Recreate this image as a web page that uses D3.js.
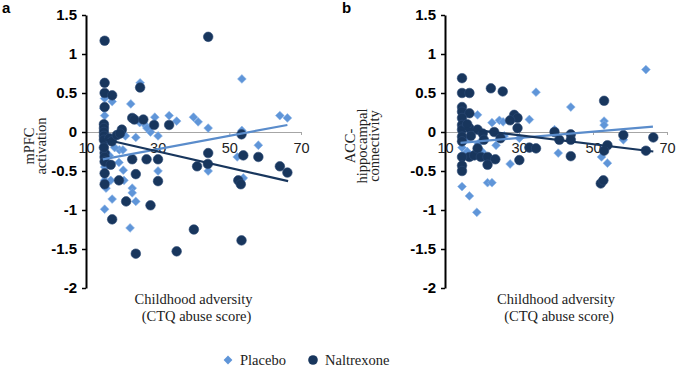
<!DOCTYPE html>
<html>
<head>
<meta charset="utf-8">
<script src="https://cdn.jsdelivr.net/npm/d3@7"></script>
<style>
  body { margin: 0; background: #fff; }
  svg { display: block; }
  .yaxis text { font-family: Arial, "Liberation Sans", sans-serif; font-weight: bold; font-size: 15px; fill: #000; }
  .xaxis text { font-family: Arial, "Liberation Sans", sans-serif; font-size: 14.5px; fill: #222; }
  .title { font-family: "Times New Roman", "Liberation Serif", serif; font-size: 14.5px; fill: #222; }
  .panel { font-family: Arial, "Liberation Sans", sans-serif; font-weight: bold; font-size: 15px; }
</style>
</head>
<body>
<svg id="chart" width="678" height="367"></svg>
<script>
// tick values
var xTicks = [10, 30, 50, 70];
var yTicks = [1.5, 1, 0.5, 0, -0.5, -1, -1.5, -2];
var seriesNames = ['Placebo', 'Naltrexone'];

// panel a: mPFC activation  [CTQ score, value]
var placeboA = [[25.1,0.63],[22.5,0.36],[15.2,0.43],[17.3,0.39],[15.2,0.21],[15,0.3],[29.2,0.19],[33.2,0.21],
  [35.3,0.14],[40,0.19],[41.3,0.13],[26.7,0.08],[28,0.0],[30.1,-0.05],[23.9,-0.07],[53.5,0.68],[64.1,0.21],
  [66.2,0.18],[44.1,0.05],[53.5,0.02],[58.1,-0.17],[52.2,-0.32],[44.1,-0.5],[53.9,-0.59],[19.3,-0.23],
  [20.3,-0.23],[30.1,-0.5],[19.2,-0.39],[20.4,-0.49],[20.6,-0.62],[22.9,-0.72],[22.9,-0.78],[23.9,-0.89],
  [17.3,-0.86],[15.2,-0.99],[22.3,-1.23],[15.6,-0.72],[15.2,-0.62],[16.9,-0.62],[15.2,-0.45],[15.2,-0.15],
  [16.5,-0.3],[18,-0.2],[21,-0.05],[25,0.12],[27,0.05]];
var naltrexoneA = [[15.2,1.17],[15.2,0.63],[15.2,0.5],[17.3,0.47],[15.2,0.32],[15,0.1],[15,0.05],[15,0.0],
  [15,-0.05],[15,-0.1],[16.5,-0.08],[17.2,-0.12],[18.6,-0.04],[20,0.03],[19.5,-0.02],[25.1,0.57],[22.9,0.18],
  [23.5,0.16],[26,0.16],[29,0.09],[33.2,0.09],[44.1,1.22],[53.4,-0.03],[44.1,-0.27],[44,-0.41],[53.9,-0.3],
  [58.1,-0.32],[64.1,-0.44],[66.2,-0.52],[52.5,-0.62],[53.2,-0.67],[53.4,-1.39],[22.9,-0.35],[26.9,-0.35],
  [30.1,-0.35],[41,-0.44],[23.9,-0.54],[30.1,-0.63],[19.2,-0.62],[21.2,-0.89],[28,-0.94],[17.3,-1.12],
  [40.1,-1.25],[23.9,-1.56],[35.3,-1.53],[15.2,-0.27],[15.2,-0.32],[15.2,-0.38],[15.2,-0.53],[15.2,-0.67],
  [16.9,-0.42],[15,-0.2]];
var placeboTrendA = [[14.7,-0.35],[66.2,0.09]];
var naltrexoneTrendA = [[14.8,-0.09],[66.4,-0.63]];

// panel b: ACC-hippocampal connectivity
var placeboB = [[34.6,0.51],[18.8,0.22],[22.7,0.12],[24.7,0.15],[25.7,0.13],[32.8,0.16],[14.6,-0.7],
  [16.6,-0.82],[18.6,-1.03],[21.5,-0.65],[22.7,-0.65],[27.6,-0.41],[14.6,-0.2],[14.6,-0.3],[16,-0.25],
  [23.8,-0.17],[30.1,-0.08],[64.3,0.8],[44,0.32],[53,0.14],[53,0.09],[58.2,-0.1],[40.6,-0.27],[52.3,-0.32],
  [53.9,-0.4],[39.6,0.03],[14.6,0.15],[14.6,0.05],[17,0.0],[19,-0.15],[26,-0.05],[15.5,-0.1],[20,-0.25]];
var naltrexoneB = [[14.6,0.69],[14.6,0.5],[16.6,0.5],[22.4,0.56],[25.6,0.52],[14.6,0.32],[14.6,0.26],
  [16.6,0.24],[14.6,0.18],[14.6,0.09],[14.6,0.03],[14.6,-0.06],[14.6,-0.12],[16.6,0.05],[18.8,0.03],
  [20.2,-0.02],[23.3,0.0],[28.7,0.22],[29.6,0.18],[27.6,0.15],[29.6,0.05],[39.6,0.0],[16.6,-0.32],
  [17.9,-0.3],[18.8,-0.21],[19.7,-0.32],[21.5,-0.32],[21.5,-0.42],[23.6,-0.35],[30.1,-0.36],[32.8,-0.2],
  [34.6,-0.21],[14.6,-0.32],[14.6,-0.43],[14.6,-0.5],[53,0.4],[44,-0.03],[44,-0.1],[40.9,-0.1],[58.2,-0.04],
  [66.3,-0.07],[64.3,-0.24],[53.9,-0.17],[53,-0.24],[44,-0.31],[52.1,-0.66],[52.8,-0.62],[16,0.1],[17,-0.05],
  [25,-0.08],[20.5,-0.1]];
var placeboTrendB = [[14.2,-0.14],[66.2,0.07]];
var naltrexoneTrendB = [[14.2,0.05],[66.3,-0.25]];

var lightBlue = '#5f95d8',
    navy = '#18365d',
    lightLine = '#5a8ccb';

var svg = d3.select('#chart');

function diamond(r) {
  return 'M0,' + (-r) + 'L' + r + ',0L0,' + r + 'L' + (-r) + ',0Z';
}

function drawPanel(opts) {
  var x = d3.scaleLinear().domain([10, 70]).range([opts.x0, opts.x1]);
  var y = d3.scaleLinear().domain([-2, 1.5]).range([288, 15]);
  var g = svg.append('g');

  // x axis sits at zero
  var xAxis = g.append('g')
    .attr('class', 'xaxis')
    .attr('transform', 'translate(0,' + y(0) + ')')
    .call(d3.axisBottom(x).tickValues(xTicks).tickSize(3).tickSizeOuter(0).tickPadding(8));
  xAxis.select('.domain').attr('stroke', '#a6a6a6');
  xAxis.selectAll('.tick line').attr('stroke', '#a6a6a6');

  var yAxis = g.append('g')
    .attr('class', 'yaxis')
    .attr('transform', 'translate(' + opts.x0 + ',0)')
    .call(d3.axisLeft(y).tickValues(yTicks).tickSize(4).tickSizeOuter(0).tickPadding(5)
      .tickFormat(function(d) { return String(d); }));
  yAxis.select('.domain').attr('stroke', '#000').attr('stroke-width', 2);
  yAxis.selectAll('.tick line').attr('stroke', '#000').attr('stroke-width', 1.5);

  g.selectAll('.pl')
    .data(opts.placebo)
    .enter()
    .append('path')
    .attr('d', diamond(4.4))
    .attr('transform', function(d) { return 'translate(' + x(d[0]) + ',' + y(d[1]) + ')'; })
    .attr('fill', lightBlue)
    .attr('stroke', '#8db5e8')
    .attr('stroke-width', 0.6);

  g.selectAll('.nx')
    .data(opts.naltrexone)
    .enter()
    .append('circle')
    .attr('cx', function(d) { return x(d[0]); })
    .attr('cy', function(d) { return y(d[1]); })
    .attr('r', 4.8)
    .attr('fill', navy)
    .attr('stroke', '#2b4a75')
    .attr('stroke-width', 0.6);

  var line = d3.line()
    .x(function(d) { return x(d[0]); })
    .y(function(d) { return y(d[1]); });

  g.append('path')
    .attr('d', line(opts.placeboTrend))
    .attr('fill', 'none')
    .attr('stroke', lightLine)
    .attr('stroke-width', 2.2);

  g.append('path')
    .attr('d', line(opts.naltrexoneTrend))
    .attr('fill', 'none')
    .attr('stroke', navy)
    .attr('stroke-width', 2.2);

  // y title, rotated, one text per line
  opts.yTitle.forEach(function(t, i) {
    g.append('text')
      .attr('class', 'title')
      .attr('transform', 'translate(' + opts.titleX[i] + ',' + opts.titleY + ') rotate(-90)')
      .attr('text-anchor', 'middle')
      .text(t);
  });

  var cx = (opts.x0 + opts.x1) / 2;
  g.append('text').attr('class', 'title').attr('x', cx).attr('y', 304)
    .attr('text-anchor', 'middle').text('Childhood adversity');
  g.append('text').attr('class', 'title').attr('x', cx + 3).attr('y', 321)
    .attr('text-anchor', 'middle').text('(CTQ abuse score)');

  g.append('text').attr('class', 'panel').attr('x', opts.labelX).attr('y', 13).text(opts.label);
}

drawPanel({
  x0: 86, x1: 301, label: 'a', labelX: 2,
  placebo: placeboA, naltrexone: naltrexoneA,
  placeboTrend: placeboTrendA, naltrexoneTrend: naltrexoneTrendA,
  yTitle: ['mPFC', 'activation'], titleX: [34, 46], titleY: 146
});

drawPanel({
  x0: 445, x1: 667, label: 'b', labelX: 342,
  placebo: placeboB, naltrexone: naltrexoneB,
  placeboTrend: placeboTrendB, naltrexoneTrend: naltrexoneTrendB,
  yTitle: ['ACC-', 'hippocampal', 'connectivity'], titleX: [355, 367, 379], titleY: 146
});

// legend
var legend = svg.append('g').attr('transform', 'translate(228,360)');
legend.append('path').attr('d', diamond(4.4)).attr('fill', lightBlue);
legend.append('text').attr('class', 'title').attr('x', 12).attr('y', 5).text(seriesNames[0]);
legend.append('circle').attr('cx', 85).attr('cy', 0).attr('r', 4.8).attr('fill', navy);
legend.append('text').attr('class', 'title').attr('x', 97).attr('y', 5).text(seriesNames[1]);
</script>
</body>
</html>
